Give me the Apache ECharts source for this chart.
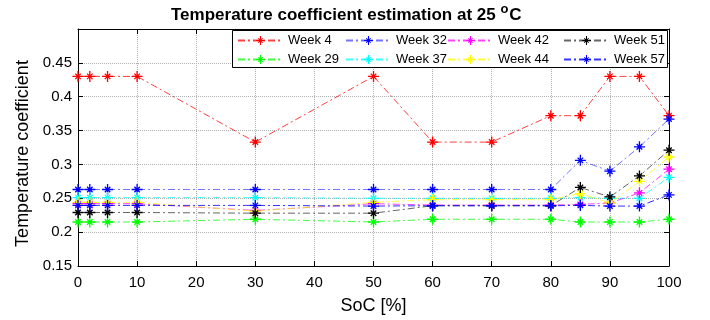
<!DOCTYPE html>
<html>
<head>
<meta charset="utf-8">
<script src="https://cdn.jsdelivr.net/npm/echarts@6/dist/echarts.min.js"></script>
<style>
  html, body { margin: 0; padding: 0; background: #fff; }
  #main { width: 710px; height: 320px; }
</style>
</head>
<body>
<div id="main"></div>
<script>
// SoC points where every week was measured
var socs = [0, 2, 5, 10, 30, 50, 60, 70, 80, 85, 90, 95, 100];

var week4  = [0.43, 0.43, 0.43, 0.43, 0.333, 0.43, 0.333, 0.333, 0.372, 0.372, 0.43, 0.43, 0.372];
var week29 = [0.215, 0.215, 0.215, 0.215, 0.219, 0.215, 0.219, 0.219, 0.219, 0.215, 0.215, 0.215, 0.219];
var week32 = [0.263, 0.263, 0.263, 0.263, 0.263, 0.263, 0.263, 0.263, 0.263, 0.306, 0.29, 0.326, 0.367];
var week37 = [0.251, 0.251, 0.251, 0.251, 0.251, 0.25, 0.25, 0.25, 0.25, 0.251, 0.25, 0.25, 0.281];
var week42 = [0.242, 0.242, 0.242, 0.242, 0.232, 0.242, 0.24, 0.24, 0.24, 0.241, 0.243, 0.258, 0.293];
var week44 = [0.244, 0.244, 0.244, 0.244, 0.231, 0.244, 0.248, 0.248, 0.248, 0.257, 0.243, 0.275, 0.311];
var week51 = [0.229, 0.229, 0.229, 0.229, 0.228, 0.228, 0.239, 0.239, 0.239, 0.266, 0.252, 0.283, 0.321];
var week57 = [0.2395, 0.2395, 0.2395, 0.2395, 0.2395, 0.2385, 0.239, 0.239, 0.239, 0.2395, 0.2385, 0.2385, 0.255];

var yTicks = [0.15, 0.2, 0.25, 0.3, 0.35, 0.4, 0.45];

// matlab style asterisk marker (8 spokes)
var star = 'path://M0,8.8 L20,8.8 L20,11.2 L0,11.2 Z M8.8,0 L11.2,0 L11.2,20 L8.8,20 Z ' +
  'M4.15,5.85 L5.85,4.15 L15.85,14.15 L14.15,15.85 Z ' +
  'M5.85,15.85 L4.15,14.15 L14.15,4.15 L15.85,5.85 Z';

var font = 'Liberation Sans, Arial, sans-serif';

function makeSeries(name, values, color, op) {
  var data = [];
  for (let i = 0; i < socs.length; i++) {
    data.push([socs[i], values[i]]);
  }
  return {
    name: name,
    type: 'line',
    data: data,
    symbol: star,
    symbolSize: 11,
    showAllSymbol: true,
    itemStyle: { color: color },
    lineStyle: { color: color, width: 1, type: [7, 3, 2, 3], opacity: op },
    emphasis: { disabled: true },
    z: 2
  };
}

function legendCol(left, names) {
  return {
    orient: 'vertical',
    left: left,
    top: 34,
    padding: 0,
    itemWidth: 45,
    itemHeight: 11,
    itemGap: 6,
    selectedMode: false,
    data: names,
    textStyle: { fontFamily: font, fontSize: 13, color: '#000' }
  };
}

var chart = echarts.init(document.getElementById('main'));

var option = {
  animation: false,
  backgroundColor: '#fff',
  title: {
    text: '{t|Temperature coefficient estimation at 25 }{s|o}{t|C}',
    left: 171,
    top: 3,
    padding: 0,
    textStyle: {
      rich: {
        t: { fontFamily: font, fontSize: 17, fontWeight: 'bold', color: '#000' },
        s: { fontFamily: font, fontSize: 13, fontWeight: 'bold', color: '#000', padding: [0, 1, 12, 0] }
      }
    }
  },
  grid: { left: 78, right: 41, top: 29, bottom: 53 },
  legend: [
    legendCol(237, ['Week 4', 'Week 29']),
    legendCol(345, ['Week 32', 'Week 37']),
    legendCol(447, ['Week 42', 'Week 44']),
    legendCol(563, ['Week 51', 'Week 57'])
  ],
  graphic: [{
    type: 'rect',
    shape: { x: 232.5, y: 30.5, width: 435, height: 37 },
    style: { fill: '#fff', stroke: '#000', lineWidth: 1 },
    z: 3
  }],
  xAxis: [{
    type: 'value',
    min: 0,
    max: 100,
    interval: 10,
    name: 'SoC [%]',
    nameLocation: 'middle',
    nameGap: 31,
    nameTextStyle: { fontFamily: font, fontSize: 18, color: '#000' },
    axisLine: { lineStyle: { color: '#000', width: 1 } },
    axisTick: { inside: true, length: 5, lineStyle: { color: '#000' } },
    axisLabel: { margin: 9, fontFamily: font, fontSize: 15, color: '#000' },
    splitLine: { show: true, lineStyle: { color: '#b0b0b0', type: 'dotted', width: 1 } }
  }, {
    type: 'value',
    position: 'top',
    min: 0,
    max: 100,
    interval: 10,
    axisLine: { onZero: false, lineStyle: { color: '#000', width: 1 } },
    axisTick: { inside: true, length: 5, lineStyle: { color: '#000' } },
    axisLabel: { show: false },
    splitLine: { show: false }
  }],
  yAxis: [{
    type: 'value',
    min: 0.15,
    max: 0.5,
    interval: 0.05,
    name: 'Temperature coefficient',
    nameLocation: 'middle',
    nameGap: 41,
    nameTextStyle: { fontFamily: font, fontSize: 18, color: '#000', padding: [0, 12, 0, 0] },
    axisLine: { lineStyle: { color: '#000', width: 1 } },
    axisTick: { inside: true, length: 5, lineStyle: { color: '#000' } },
    axisLabel: {
      margin: 6,
      fontFamily: font,
      fontSize: 15,
      color: '#000',
      formatter: function (v) {
        for (let i = 0; i < yTicks.length; i++) {
          if (Math.abs(yTicks[i] - v) < 1e-6) return String(yTicks[i]);
        }
        return '';
      }
    },
    splitLine: { show: true, lineStyle: { color: '#b0b0b0', type: 'dotted', width: 1 } }
  }, {
    type: 'value',
    position: 'right',
    min: 0.15,
    max: 0.5,
    interval: 0.05,
    axisLine: { show: true, onZero: false, lineStyle: { color: '#000', width: 1 } },
    axisTick: { show: true, inside: true, length: 5, lineStyle: { color: '#000' } },
    axisLabel: { show: false },
    splitLine: { show: false }
  }],
  series: [
    makeSeries('Week 4', week4, '#ff0000', 0.75),
    makeSeries('Week 29', week29, '#00ff00', 0.75),
    makeSeries('Week 32', week32, '#0000ff', 0.55),
    makeSeries('Week 37', week37, '#00ffff', 0.75),
    makeSeries('Week 42', week42, '#ff00ff', 0.75),
    makeSeries('Week 44', week44, '#ffff00', 0.75),
    makeSeries('Week 51', week51, '#000000', 0.6),
    makeSeries('Week 57', week57, '#0000ff', 0.8)
  ]
};

chart.setOption(option);
</script>
</body>
</html>
